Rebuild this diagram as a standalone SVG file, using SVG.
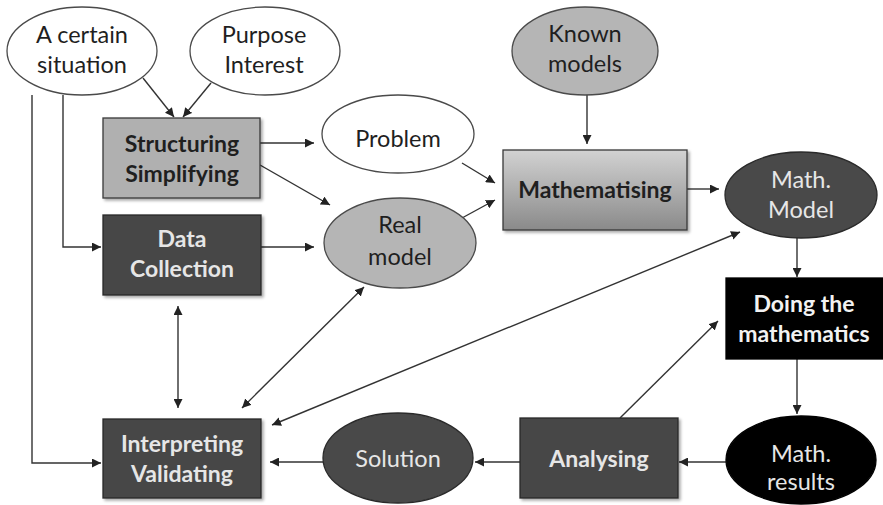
<svg xmlns="http://www.w3.org/2000/svg" width="883" height="505" viewBox="0 0 883 505">
<style>
text{font-family:Lato,"Liberation Sans",sans-serif;font-size:23.5px;text-anchor:middle}
.b{font-weight:bold;font-size:23px}
.dk{fill:#1f1f1f}
.lt{fill:#e6e6e6}
.ew{fill:#ffffff;stroke:#4a4a4a;stroke-width:1.3}
.eg{fill:#b5b5b5;stroke:#4a4a4a;stroke-width:1.3}
.ed{fill:#494949;stroke:#2a2a2a;stroke-width:1.3}
.eb{fill:#000;stroke:#000;stroke-width:1.3}
.rg{fill:#b0b0b0;stroke:#3a3a3a;stroke-width:1.3}
.rd{fill:#474747;stroke:#2a2a2a;stroke-width:1.3}
.rb{fill:#000;stroke:#000;stroke-width:1.3}
.c{fill:none;stroke:#333;stroke-width:1.4;marker-end:url(#ah)}
.c2{fill:none;stroke:#333;stroke-width:1.4;marker-end:url(#ah);marker-start:url(#ah)}
</style>
<defs>
<marker id="ah" viewBox="0 0 10 10" refX="10" refY="5" markerWidth="9" markerHeight="9" markerUnits="userSpaceOnUse" orient="auto-start-reverse"><path d="M0,0 L10,5 L0,10 z" fill="#222"/></marker>
<linearGradient id="mg" x1="0" y1="0" x2="0" y2="1"><stop offset="0" stop-color="#d2d2d2"/><stop offset="1" stop-color="#8a8a8a"/></linearGradient>
<filter id="sh" x="-10%" y="-10%" width="125%" height="130%"><feGaussianBlur in="SourceAlpha" stdDeviation="1.5"/><feOffset dx="2" dy="2"/><feComponentTransfer><feFuncA type="linear" slope="0.35"/></feComponentTransfer><feMerge><feMergeNode/><feMergeNode in="SourceGraphic"/></feMerge></filter>
</defs>
<rect width="883" height="505" fill="#fff"/>
<g id="connectors">
<path class="c" d="M143,78 L174,117"/>
<path class="c" d="M211,83 L183,117"/>
<path class="c" d="M32,95 L32,463 L101,463"/>
<path class="c" d="M63,95 L63,247 L101,247"/>
<path class="c" d="M260,143 L314,143"/>
<path class="c" d="M260,165 L330,205"/>
<path class="c" d="M261,247 L314,247"/>
<path class="c" d="M587,95 L587,144"/>
<path class="c" d="M462,163 L495,183"/>
<path class="c" d="M462,218 L495,200"/>
<path class="c" d="M687,189 L719,189"/>
<path class="c" d="M797,238 L797,277"/>
<path class="c" d="M797,359 L797,414"/>
<path class="c" d="M726,462 L679,462"/>
<path class="c" d="M620,418 L718,321"/>
<path class="c" d="M520,462 L475,462"/>
<path class="c" d="M323,462 L270,462"/>
<path class="c2" d="M242,408 L364,287"/>
<path class="c2" d="M272,425 L740,232"/>
<path class="c2" d="M178,306 L178,408"/>
</g>
<g id="situation"><ellipse class="ew" cx="82" cy="51" rx="75" ry="44"/><text class="dk" x="82" y="43">A certain</text><text class="dk" x="82" y="73">situation</text></g>
<g id="purpose"><ellipse class="ew" cx="265" cy="51" rx="75" ry="44"/><text class="dk" x="264" y="43">Purpose</text><text class="dk" x="264" y="73">Interest</text></g>
<g id="known"><ellipse class="eg" cx="585" cy="51" rx="73" ry="44"/><text class="dk" x="585" y="42">Known</text><text class="dk" x="585" y="72">models</text></g>
<g id="structuring"><rect class="rg" x="103" y="118" width="157" height="80" filter="url(#sh)"/><text class="dk b" x="182" y="152">Structuring</text><text class="dk b" x="182" y="182">Simplifying</text></g>
<g id="problem"><ellipse class="ew" cx="398" cy="134" rx="76" ry="39"/><text class="dk" x="398" y="147">Problem</text></g>
<g id="realmodel"><ellipse class="eg" cx="400" cy="243" rx="76" ry="45"/><text class="dk" x="400" y="233">Real</text><text class="dk" x="400" y="265">model</text></g>
<g id="mathematising"><rect x="503" y="150" width="184" height="80" fill="url(#mg)" stroke="#3a3a3a" stroke-width="1.3" filter="url(#sh)"/><text class="dk b" x="595" y="198">Mathematising</text></g>
<g id="datacollection"><rect class="rd" x="103" y="215" width="158" height="80" filter="url(#sh)"/><text class="lt b" x="182" y="247">Data</text><text class="lt b" x="182" y="277">Collection</text></g>
<g id="mathmodel"><ellipse class="ed" cx="801" cy="195" rx="76" ry="43"/><text class="lt" x="801" y="188" fill="#d8d8d8">Math.</text><text class="lt" x="801" y="218">Model</text></g>
<g id="doing"><rect class="rb" x="726" y="278" width="157" height="81"/><text class="b" fill="#f2f2f2" x="804" y="312">Doing the</text><text class="b" fill="#f2f2f2" x="804" y="342">mathematics</text></g>
<g id="mathresults"><ellipse class="eb" cx="801" cy="460" rx="75" ry="44"/><text fill="#e6e6e6" x="801" y="462">Math.</text><text fill="#e6e6e6" x="801" y="490">results</text></g>
<g id="analysing"><rect class="rd" x="520" y="418" width="158" height="80" filter="url(#sh)"/><text class="lt b" x="599" y="467">Analysing</text></g>
<g id="solution"><ellipse class="ed" cx="398" cy="458" rx="75" ry="45"/><text class="lt" x="398" y="467">Solution</text></g>
<g id="interpreting"><rect class="rd" x="103" y="419" width="158" height="79" filter="url(#sh)"/><text class="lt b" x="182" y="452">Interpreting</text><text class="lt b" x="182" y="482">Validating</text></g>
</svg>
